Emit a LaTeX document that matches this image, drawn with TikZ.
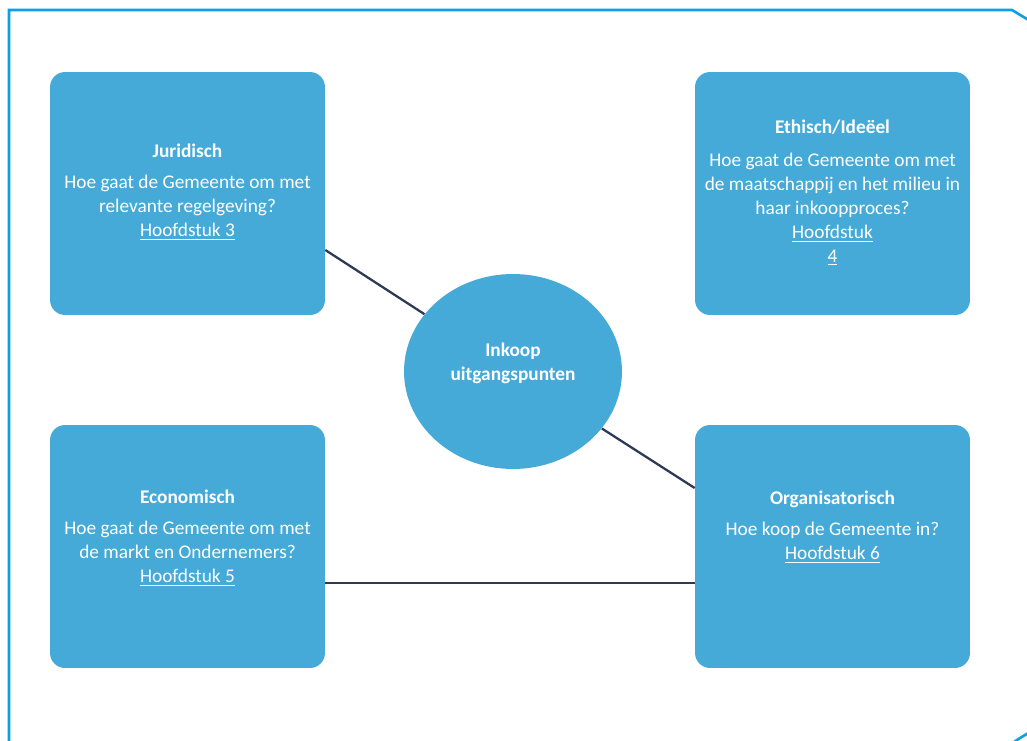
\documentclass[tikz,border=0pt]{standalone}
\usepackage{fontspec}
\setmainfont{Carlito}
\usepackage{tikz}
\usetikzlibrary{positioning, shapes.geometric, calc}

\definecolor{vakblauw}{HTML}{45AAD8}
\definecolor{lijnblauw}{HTML}{0AA0E2}
\definecolor{lijndonker}{HTML}{2E3A55}

\begin{document}
\begin{tikzpicture}[x=0.02cm, y=-0.02cm,
    vak/.style={draw=none, fill=vakblauw, rounded corners=0.3cm, minimum width=5.5cm, minimum height=4.86cm},
    kern/.style={ellipse, draw=none, fill=vakblauw, minimum width=4.36cm, minimum height=3.9cm},
    tekst/.style={text=white, align=center, anchor=north, inner sep=0pt, font=\fontsize{11}{13.6}\selectfont},
    verbinding/.style={draw=lijndonker, line width=1.3pt},
    kader/.style={draw=lijnblauw, line width=1.5pt}]
    \useasboundingbox (0,0) rectangle (1027,740);

    % Kader
    \begin{scope}
        \clip (0,0) rectangle (1027,740);
        \draw[kader] (9,760) -- (9,10) -- (1012,10) -- (1045,30);
        \draw[kader] (1014,742) .. controls (1020,738) .. (1030,732);
    \end{scope}

    % Vakken
    \node[vak] (jur) at (187.5,193.5) {};
    \node[vak] (eth) at (832.5,193.5) {};
    \node[vak] (eco) at (187.5,546.5) {};
    \node[vak] (org) at (832.5,546.5) {};
    \node[kern] (kern) at (513,371.5) {};

    % Verbindingen
    \draw[verbinding] ($(jur.east)+(0,56.5)$) -- (kern);
    \draw[verbinding] (kern) -- ($(org.west)+(0,-58.5)$);
    \draw[verbinding] ($(eco.east)+(0,36.5)$) -- ($(org.west)+(0,36.5)$);

    % Teksten
    \node[tekst] (jurtxt) at (187.5,144) {\textbf{Juridisch}\\[4pt]
        Hoe gaat de Gemeente om met\\ relevante regelgeving?\\ \underline{Hoofdstuk 3}};
    \node[tekst] (ethtxt) at (832.5,120) {\textbf{Ethisch/Ideëel}\\[5pt]
        Hoe gaat de Gemeente om met\\ de maatschappij en het milieu in\\ haar inkoopproces?\\
        \underline{Hoofdstuk}\\ \underline{4}};
    \node[tekst] (ecotxt) at (187.5,490) {\textbf{Economisch}\\[4pt]
        Hoe gaat de Gemeente om met\\ de markt en Ondernemers?\\ \underline{Hoofdstuk 5}};
    \node[tekst] (orgtxt) at (832.5,491) {\textbf{Organisatorisch}\\[4pt]
        Hoe koop de Gemeente in?\\ \underline{Hoofdstuk 6}};
    \node[tekst] (kerntxt) at (513,343) {\textbf{Inkoop}\\ \textbf{uitgangspunten}};
\end{tikzpicture}
\end{document}
